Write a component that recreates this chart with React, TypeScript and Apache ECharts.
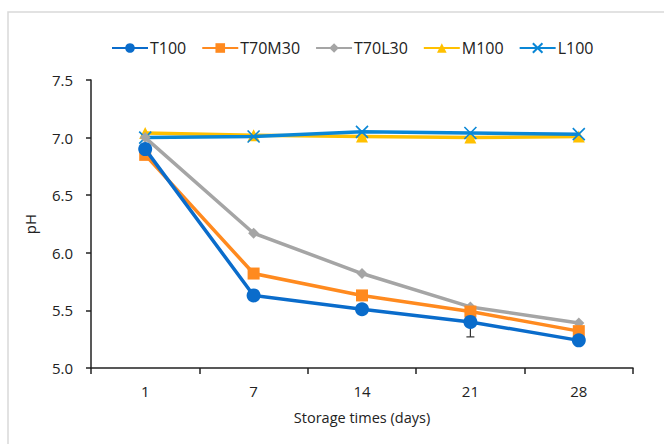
import React, { useEffect, useRef } from "react";
import * as echarts from "echarts";

const categories = ["1", "7", "14", "21", "28"];
const T100 = [6.9, 5.63, 5.51, 5.4, 5.24];
const T70M30 = [6.85, 5.82, 5.63, 5.49, 5.32];
const T70L30 = [7.0, 6.17, 5.82, 5.53, 5.39];
const M100 = [7.04, 7.02, 7.01, 7.0, 7.01];
const L100 = [7.0, 7.01, 7.05, 7.04, 7.03];
const T100err = [0.02, 0.02, 0.02, 0.13, 0.02];
const yTicks = { min: 5.0, max: 7.5, interval: 0.5 };

const FONT = "Open Sans";

export default function App() {
  const ref = useRef<HTMLDivElement>(null);
  useEffect(() => {
    if (!ref.current) return;
    const chart = echarts.init(ref.current, undefined, { renderer: "svg" });
    const mk = (name: string, data: number[], color: string, symbol: string, size: number, extra: any = {}) => ({
      name,
      type: "line",
      data,
      symbol,
      symbolSize: size,
      lineStyle: { color, width: 3.5 },
      itemStyle: { color, ...(extra.itemStyle || {}) },
      z: extra.z || 3,
    });
    const errData = T100.map((v, i) => [i, v - T100err[i], v + T100err[i]]);
    chart.setOption({
      animation: false,
      backgroundColor: "#fff",
      textStyle: { fontFamily: FONT },
      graphic: [
        {
          type: "rect",
          shape: { x: 8, y: 12, width: 700, height: 500 },
          style: { fill: "none", stroke: "#d9d9d9", lineWidth: 1.5 },
          silent: true,
          z: -1,
        },
      ],
      legend: {
        top: 35,
        left: 106,
        itemWidth: 36,
        itemHeight: 12,
        itemGap: 15,
        textStyle: { fontFamily: FONT, fontSize: 16, color: "#222", padding: [0, 0, 0, -3] },
        data: ["T100", "T70M30", "T70L30", "M100", "L100"],
      },
      grid: { left: 91, right: 31, top: 80, bottom: 76 },
      xAxis: {
        type: "category",
        data: categories,
        boundaryGap: true,
        name: "Storage times (days)",
        nameLocation: "middle",
        nameGap: 42,
        nameTextStyle: { fontFamily: FONT, fontSize: 14.5, color: "#222" },
        axisLine: { lineStyle: { color: "#222", width: 1.5 } },
        axisTick: { show: true, length: 6, alignWithLabel: false, lineStyle: { color: "#222", width: 1.5 } },
        axisLabel: { fontFamily: FONT, fontSize: 15, color: "#222", margin: 15 },
        splitLine: { show: false },
      },
      yAxis: {
        type: "value",
        min: yTicks.min,
        max: yTicks.max,
        interval: yTicks.interval,
        name: "pH",
        nameLocation: "middle",
        nameGap: 54,
        nameTextStyle: { fontFamily: FONT, fontSize: 15, color: "#222" },
        axisLine: { show: true, lineStyle: { color: "#222", width: 1.5 } },
        axisTick: { show: true, length: 5, lineStyle: { color: "#222", width: 1.5 } },
        axisLabel: { fontFamily: FONT, fontSize: 15, color: "#222", margin: 18, formatter: (v: number) => v.toFixed(1) },
        splitLine: { show: false },
      },
      series: [
        {
          name: "err",
          type: "custom",
          data: errData,
          z: 1,
          renderItem: (params: any, api: any) => {
            const x = api.value(0);
            const lo = api.coord([x, api.value(1)]);
            const hi = api.coord([x, api.value(2)]);
            const cap = 4;
            const st = { stroke: "#333", lineWidth: 1.2 };
            return {
              type: "group",
              children: [
                { type: "line", shape: { x1: lo[0], y1: lo[1], x2: hi[0], y2: hi[1] }, style: st },
                { type: "line", shape: { x1: lo[0] - cap, y1: lo[1], x2: lo[0] + cap, y2: lo[1] }, style: st },
                { type: "line", shape: { x1: hi[0] - cap, y1: hi[1], x2: hi[0] + cap, y2: hi[1] }, style: st },
              ],
            };
          },
        },
        mk("M100", M100, "#FFC000", "triangle", 12, { z: 3 }),
        mk("L100", L100, "#0A87D6", "path://M0,0L10,10M10,0L0,10", 12, {
          z: 4,
          itemStyle: { borderColor: "#0A87D6", borderWidth: 1.6 },
        }),
        mk("T70L30", T70L30, "#A5A5A5", "diamond", 11, { z: 5 }),
        mk("T70M30", T70M30, "#FF8A1F", "rect", 12, { z: 6 }),
        mk("T100", T100, "#0A6CCB", "circle", 14, { z: 7 }),
      ],
    });
    return () => chart.dispose();
  }, []);
  return <div ref={ref} style={{ position: "fixed", left: 0, top: 0, width: 664, height: 444 }} />;
}
